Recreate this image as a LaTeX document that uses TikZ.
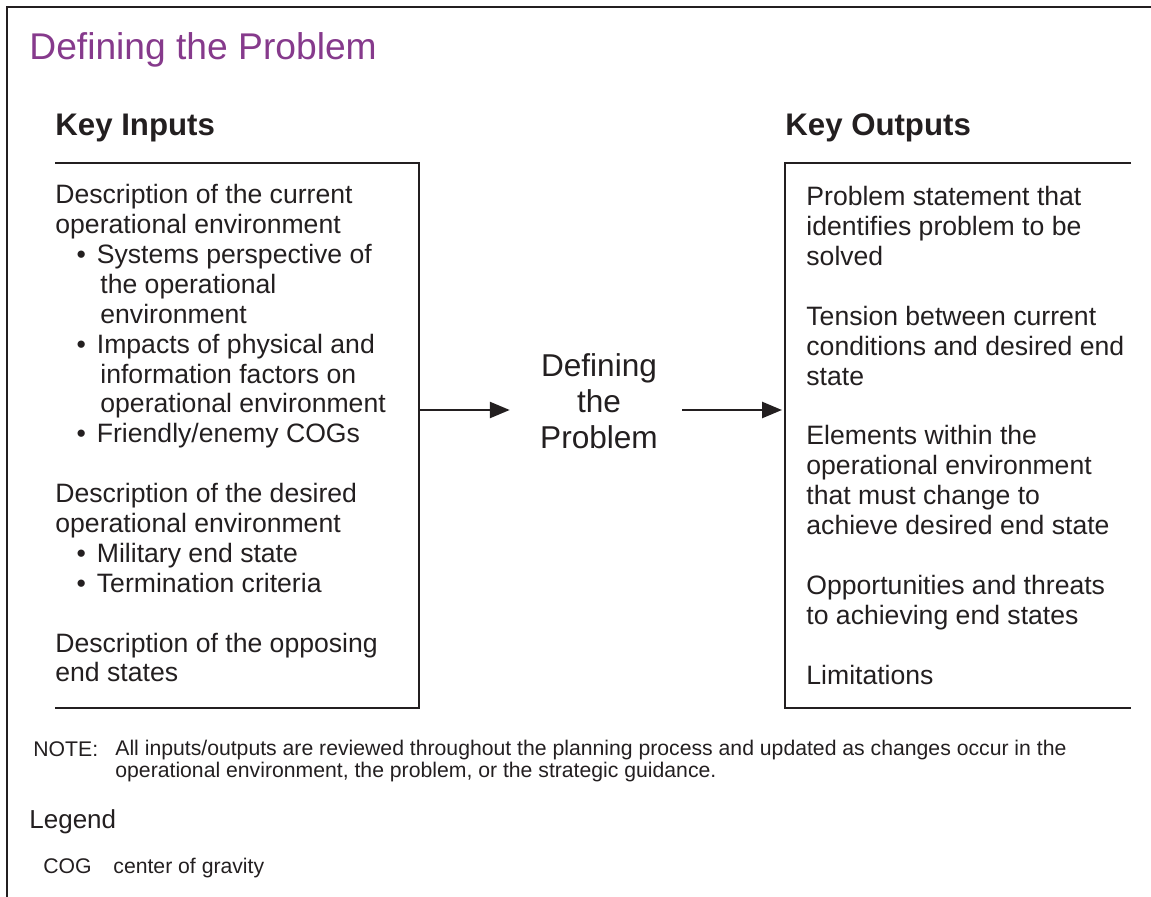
\documentclass[tikz,border=0pt]{standalone}
\usepackage{fontspec}
\setmainfont{Liberation Sans}
\usetikzlibrary{arrows.meta}
\definecolor{ink}{RGB}{35,31,32}
\definecolor{titlepurple}{RGB}{134,58,140}

\begin{document}
\begin{tikzpicture}[x=0.5pt,y=-0.5pt,
    txt/.style={anchor=base west,inner sep=0pt,text=ink,align=left,font=\fontsize{13.3}{14.95}\selectfont},
    small/.style={anchor=base west,inner sep=0pt,text=ink,align=left,font=\fontsize{10.6}{10.8}\selectfont},
    head/.style={anchor=base west,inner sep=0pt,text=ink,font=\fontsize{15.6}{18}\selectfont\bfseries},
    edge/.style={draw=ink,line width=1.3pt},
    arr/.style={draw=ink,line width=1.3pt,-{Triangle[length=10pt,width=8pt]}}]
    \useasboundingbox (0,0) rectangle (1151,897);

    \draw[draw=ink,line width=1pt] (7,897) -- (7,7) -- (1151,7);

    \node[anchor=base west,inner sep=0pt,text=titlepurple,font=\fontsize{18.6}{22}\selectfont] (title) at (29,60) {Defining the Problem};
    \node[head] (inhead) at (55,136) {Key Inputs};
    \node[head] (outhead) at (785,136) {Key Outputs};

    \draw[edge] (55,163) -- (419,163) -- (419,708) -- (55,708);
    \draw[edge] (1131,163) -- (785,163) -- (785,708) -- (1131,708);

    \node[txt] (inputs) at (55,682) {Description of the current\\
        operational environment\\
        \hspace*{20.75pt}\llap{\textbullet\hspace{5.5pt}}Systems perspective of\\
        \hspace*{22.5pt}the operational\\
        \hspace*{22.5pt}environment\\
        \hspace*{20.75pt}\llap{\textbullet\hspace{5.5pt}}Impacts of physical and\\
        \hspace*{22.5pt}information factors on\\
        \hspace*{22.5pt}operational environment\\
        \hspace*{20.75pt}\llap{\textbullet\hspace{5.5pt}}Friendly/enemy COGs\\[14.95pt]
        Description of the desired\\
        operational environment\\
        \hspace*{20.75pt}\llap{\textbullet\hspace{5.5pt}}Military end state\\
        \hspace*{20.75pt}\llap{\textbullet\hspace{5.5pt}}Termination criteria\\[14.95pt]
        Description of the opposing\\
        end states};

    \node[txt] (outputs) at (806,684) {Problem statement that\\
        identifies problem to be\\
        solved\\[14.95pt]
        Tension between current\\
        conditions and desired end\\
        state\\[14.95pt]
        Elements within the\\
        operational environment\\
        that must change to\\
        achieve desired end state\\[14.95pt]
        Opportunities and threats\\
        to achieving end states\\[14.95pt]
        Limitations};

    \node[inner sep=0pt,text=ink,align=center,font=\fontsize{15.8}{18}\selectfont] (ctr) at (599,401) {Defining\\the\\Problem};

    \coordinate (inR) at (419,410);
    \coordinate (outL) at (785,410);
    \draw[arr,shorten >=15pt] (inR) -- (inR -| ctr.west);
    \draw[arr,shorten <=12pt,shorten >=1.5pt] (outL -| ctr.east) -- (outL);

    \node[small] (note) at (33,756) {NOTE:};
    \node[small] (notetext) at (115,777) {All inputs/outputs are reviewed throughout the planning process and updated as changes occur in the\\
        operational environment, the problem, or the strategic guidance.};

    \node[anchor=base west,inner sep=0pt,text=ink,font=\fontsize{13}{15}\selectfont] (legend) at (29,828) {Legend};
    \node[small] (cog) at (43,873) {COG};
    \node[small] (cogtext) at (113,873) {center of gravity};
\end{tikzpicture}
\end{document}
